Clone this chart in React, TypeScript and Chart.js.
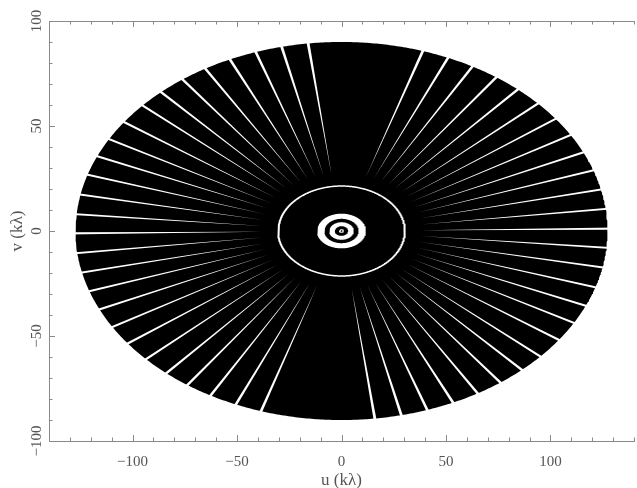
import React, { useEffect, useRef } from 'react';
import { Chart, registerables } from 'chart.js';

Chart.register(...registerables);

// ---- axes ----
const uRange = [-140, 140];
const vRange = [-100, 100];
const tickStep = 10;
const labelStep = 50;
const uTitle = 'u (k\u03bb)';
const vTitle = 'v (k\u03bb)';

// ---- uv coverage ----
const coverageU = 127.3; // outer semi-axis along u (kλ)
const coverageV = 90.0; // outer semi-axis along v (kλ)
// hour-angle gaps, as parametric angles of the track ellipses (degrees)
const gapAngles = [
  0.7, 6.7, 12.7, 18.7, 24.6, 30.5, 36.4, 42.4, 48.5, 54.4, 60.5, 66.4, 72.2,
  97.2, 103.0, 108.8, 114.8, 120.8, 126.7, 132.7, 138.4, 144.8, 150.9, 156.7, 162.7, 168.9, 174.9,
  180.7, 186.7, 192.7, 198.6, 204.5, 210.5, 216.5, 222.7, 228.8, 234.6, 240.5, 246.6, 252.4,
  277.2, 283.0, 288.8, 294.8, 300.8, 306.7, 312.7, 318.4, 324.8, 330.9, 336.7, 342.7, 348.9, 354.9,
];
const gapWidthDeg = 0.62;
const gapInnerFrac = 0.3; // gaps close up (fade out) towards this fraction of the outer track
// empty (white) annuli in the coverage, [inner, outer] along u (kλ)
const emptyBandInner = [29.8, 8.2, 3.2, 0.5];
const emptyBandOuter = [30.8, 11.7, 5.9, 1.2];

const axisColor = '#8a8a8a';
const textColor = '#555555';
const fontFamily = '"Liberation Serif", "Times New Roman", serif';

const rad = (d: number) => (d * Math.PI) / 180;

function ellipse(frac: number) {
  const pts: { x: number; y: number }[] = [];
  for (let i = 0; i <= 720; i++) {
    const t = rad(i / 2);
    pts.push({ x: coverageU * frac * Math.cos(t), y: coverageV * frac * Math.sin(t) });
  }
  return pts;
}

function wedge(angle: number) {
  const f = 1.03;
  const a = rad(angle);
  const a0 = rad(angle - gapWidthDeg / 2);
  const a1 = rad(angle + gapWidthDeg / 2);
  const apex = { x: coverageU * gapInnerFrac * Math.cos(a), y: coverageV * gapInnerFrac * Math.sin(a) };
  return [
    apex,
    { x: coverageU * f * Math.cos(a0), y: coverageV * f * Math.sin(a0) },
    { x: coverageU * f * Math.cos(a1), y: coverageV * f * Math.sin(a1) },
    apex,
  ];
}

function shape(data: { x: number; y: number }[], color: string) {
  return {
    data,
    showLine: true,
    fill: 'shape',
    backgroundColor: color,
    borderColor: color,
    borderWidth: 0,
    pointRadius: 0,
    pointHoverRadius: 0,
    tension: 0,
  };
}

function fmt(v: number) {
  if (v % labelStep !== 0) return '';
  return v < 0 ? '\u2212' + Math.abs(v) : String(v);
}

const inwardTicks = {
  id: 'inwardTicks',
  afterDraw(chart: any) {
    const { ctx, chartArea } = chart;
    ctx.save();
    ctx.strokeStyle = axisColor;
    ctx.lineWidth = 1;
    const len = (v: number) => (v % labelStep === 0 ? 6 : 3.5);
    for (const id of ['x', 'x2']) {
      const s = chart.scales[id];
      const base = id === 'x' ? chartArea.bottom : chartArea.top;
      const dir = id === 'x' ? -1 : 1;
      for (const t of s.ticks) {
        const px = Math.round(s.getPixelForValue(t.value)) + 0.5;
        ctx.beginPath();
        ctx.moveTo(px, base);
        ctx.lineTo(px, base + dir * len(t.value));
        ctx.stroke();
      }
    }
    const sy = chart.scales.y;
    for (const t of sy.ticks) {
      const py = Math.round(sy.getPixelForValue(t.value)) + 0.5;
      ctx.beginPath();
      ctx.moveTo(chartArea.left, py);
      ctx.lineTo(chartArea.left + len(t.value), py);
      ctx.stroke();
    }
    ctx.restore();
  },
};

export default function App() {
  const ref = useRef<HTMLCanvasElement>(null);
  useEffect(() => {
    if (!ref.current) return;
    const layers: any[] = [];
    layers.push(shape(ellipse(1), '#000000'));
    gapAngles.forEach((a) => layers.push(shape(wedge(a), '#ffffff')));
    emptyBandOuter.forEach((outer, i) => {
      layers.push(shape(ellipse(outer / coverageU), '#ffffff'));
      layers.push(shape(ellipse(emptyBandInner[i] / coverageU), '#000000'));
    });
    layers.forEach((d, i) => (d.order = -i));

    const chart = new Chart(ref.current, {
      type: 'scatter',
      data: { datasets: layers },
      plugins: [inwardTicks],
      options: {
        responsive: false,
        devicePixelRatio: 1,
        animation: false,
        events: [],
        layout: { padding: 0 },
        plugins: { legend: { display: false }, tooltip: { enabled: false } },
        scales: {
          x: {
            type: 'linear',
            position: 'bottom',
            min: uRange[0],
            max: uRange[1],
            afterFit: (s: any) => { s.height = 47; },
            grid: { display: false, drawTicks: false },
            border: { display: true, color: axisColor, width: 1 },
            ticks: {
              stepSize: tickStep,
              autoSkip: false,
              maxRotation: 0,
              minRotation: 0,
              padding: 12,
              color: textColor,
              font: { family: fontFamily, size: 15 },
              callback: (v: any) => fmt(Number(v)),
            },
            title: {
              display: true,
              text: uTitle,
              color: textColor,
              font: { family: fontFamily, size: 17, lineHeight: 1 },
              padding: { top: 0, bottom: -1 },
            },
          },
          x2: {
            type: 'linear',
            position: 'top',
            min: uRange[0],
            max: uRange[1],
            afterFit: (s: any) => { s.height = 21; },
            grid: { display: false, drawTicks: false },
            border: { display: true, color: axisColor, width: 1 },
            ticks: { display: false, stepSize: tickStep, autoSkip: false },
          },
          y: {
            type: 'linear',
            position: 'left',
            min: vRange[0],
            max: vRange[1],
            afterFit: (s: any) => { s.width = 49; },
            grid: { display: false, drawTicks: false },
            border: { display: true, color: axisColor, width: 1 },
            ticks: {
              stepSize: tickStep,
              autoSkip: false,
              minRotation: 90,
              maxRotation: 90,
              crossAlign: 'center',
              padding: -3.5,
              color: textColor,
              font: { family: fontFamily, size: 15 },
              callback: (v: any) => fmt(Number(v)),
            },
            title: {
              display: true,
              text: vTitle,
              color: textColor,
              font: { family: fontFamily, size: 17, lineHeight: 1 },
              padding: { top: 9, bottom: 0 },
            },
          },
        },
      },
    } as any);
    return () => chart.destroy();
  }, []);

  return (
    <div style={{ position: 'fixed', left: 0, top: 0, width: 637, height: 488, overflow: 'hidden', background: '#fff' }}>
      <canvas ref={ref} width={646} height={488} style={{ display: 'block' }} />
    </div>
  );
}
